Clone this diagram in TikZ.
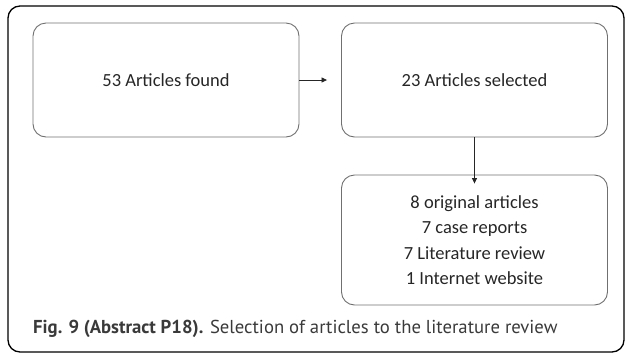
\documentclass[tikz,border=0pt]{standalone}
\usepackage{fontspec}
\setmainfont{Carlito}
\newfontfamily\capfont{PT Sans}
\usetikzlibrary{arrows.meta}
\definecolor{boxline}{HTML}{707070}
\definecolor{captxt}{HTML}{3A3A3A}
\tikzset{
  flowbox/.style={draw=boxline, line width=0.9pt, rounded corners=13pt, minimum width=266pt, inner sep=0pt, align=center, font=\fontsize{18.5}{25.5}\selectfont, text=black!85},
  flowarrow/.style={draw=black!85, line width=0.8pt, -{Triangle[length=5.5pt,width=5pt]}},
}
\begin{document}
\begin{tikzpicture}[x=1pt,y=-1pt]
\useasboundingbox (0,0) rectangle (627,357);
\draw[line width=1.3pt, rounded corners=12pt] (8,6) rectangle (624,352);
\node[flowbox, minimum height=114pt] (found) at (166,80) {53 Articles found};
\node[flowbox, minimum height=114pt] (selected) at (474.5,80) {23 Articles selected};
\node[flowbox, minimum height=130pt] (result) at (474.5,240) {8 original articles\\7 case reports\\7 Literature review\\1 Internet website};
\draw[flowarrow] (found.east) -- ([xshift=-14pt]selected.west);
\draw[flowarrow] (selected.south) -- ([yshift=-9pt]result.north);
\node[anchor=west, font=\capfont\fontsize{18.7}{20}\selectfont, text=captxt, inner sep=0pt] (caption) at (33,329) {\textbf{Fig. 9 (Abstract P18).} Selection of articles to the literature review};
\end{tikzpicture}
\end{document}
